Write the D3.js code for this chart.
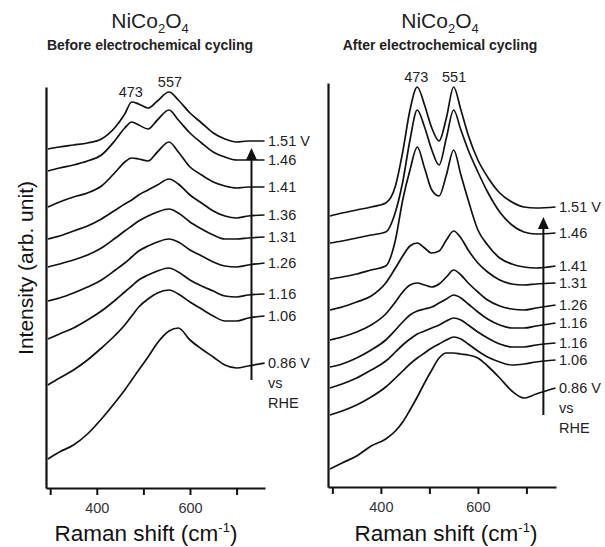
<!DOCTYPE html>
<html>
<head>
<meta charset="utf-8">
<script src="https://cdn.jsdelivr.net/npm/d3@7"></script>
<style>
  body { margin: 0; background: #fff; }
  svg { font-family: "Liberation Sans", Arial, sans-serif; }
</style>
</head>
<body>
<div id="chart"></div>
<script>
// Raman shift grid (cm-1) and intensities (arb. unit)
const shiftBefore = [295, 320, 350, 380, 410, 440, 460, 475, 490, 510, 530, 555, 575, 600, 625, 650, 675, 700, 725, 760];
const before151 = [339, 341, 343, 345, 349, 361, 374, 386, 384, 380, 387, 396, 388, 375, 365, 355, 349, 346, 347, 347];
const before146 = [317, 320, 323, 327, 333, 348, 360, 366, 363, 359, 368, 378, 368, 355, 345, 336, 331, 328, 328, 328];
const before141 = [281, 286, 291, 295, 302, 316, 326, 330, 329, 327, 336, 346, 336, 321, 313, 306, 302, 300, 301, 301];
const before136 = [249, 252, 257, 262, 269, 278, 284, 288, 293, 298, 303, 309, 304, 293, 285, 277, 272, 270, 272, 273];
const before131 = [221, 224, 228, 233, 240, 250, 257, 262, 267, 272, 276, 279, 275, 266, 259, 253, 249, 249, 250, 251];
const before126 = [187, 190, 195, 201, 208, 218, 225, 231, 237, 242, 246, 249, 246, 238, 232, 226, 222, 221, 223, 225];
const before116 = [149, 154, 160, 168, 177, 188, 196, 202, 208, 213, 217, 220, 216, 208, 202, 197, 192, 191, 193, 194];
const before106 = [103, 110, 118, 128, 140, 153, 163, 172, 181, 189, 195, 198, 194, 186, 179, 172, 167, 167, 170, 172];
const before086 = [29, 36, 43, 54, 69, 86, 98, 108, 118, 131, 145, 157, 160, 148, 139, 131, 123, 120, 122, 125];
const labelsBefore = ['1.51 V', '1.46', '1.41', '1.36', '1.31', '1.26', '1.16', '1.06', '0.86 V'];
const peaksBefore = [473, 557];

const shiftAfter = [295, 320, 350, 380, 410, 430, 445, 460, 475, 490, 505, 520, 535, 550, 565, 580, 600, 620, 645, 670, 695, 720, 760];
const after151 = [271, 274, 277, 280, 284, 301, 335, 377, 400, 382, 359, 346, 369, 400, 377, 352, 327, 310, 294, 285, 280, 279, 280];
const after146 = [244, 246, 249, 252, 255, 275, 305, 347, 377, 360, 337, 322, 349, 377, 357, 337, 315, 295, 275, 262, 255, 253, 254];
const after141 = [208, 210, 213, 217, 221, 247, 287, 317, 340, 319, 297, 291, 312, 337, 312, 287, 257, 242, 229, 223, 220, 219, 221];
const after131 = [177, 180, 185, 191, 204, 219, 231, 241, 244, 239, 234, 236, 247, 256, 249, 237, 224, 215, 207, 203, 202, 203, 204];
const after126 = [147, 150, 155, 162, 173, 185, 195, 202, 204, 202, 200, 203, 210, 217, 212, 204, 195, 187, 181, 178, 177, 179, 182];
const after116a = [120, 123, 129, 137, 147, 157, 165, 172, 176, 178, 180, 184, 188, 192, 189, 183, 175, 168, 162, 159, 159, 161, 164];
const after116b = [99, 103, 109, 117, 126, 135, 142, 148, 153, 156, 159, 162, 166, 169, 167, 162, 155, 149, 143, 140, 140, 142, 144];
const after106 = [72, 76, 82, 90, 100, 109, 116, 123, 129, 134, 139, 143, 147, 150, 148, 143, 136, 130, 125, 122, 123, 125, 127];
const after086 = [18, 24, 31, 41, 48, 56, 65, 77, 90, 104, 117, 129, 134, 134, 133, 132, 129, 121, 109, 96, 89, 93, 99];
const labelsAfter = ['1.51 V', '1.46', '1.41', '1.31', '1.26', '1.16', '1.16', '1.06', '0.86 V'];
const peaksAfter = [473, 551];

const tickValues = [300, 400, 500, 600, 700];
const tickLabels = [400, 600];
const shiftDomain = [291, 761];

const svg = d3.select('#chart').append('svg')
  .attr('width', 605)
  .attr('height', 547);

function drawPanel(p) {
  const x = d3.scaleLinear().domain(shiftDomain).range([p.x0, p.x1]);
  const y = d3.scaleLinear().domain([0, p.yMax]).range([p.y1, p.y0]);
  const g = svg.append('g');

  const line = d3.line()
    .x(d => x(d[0]))
    .y(d => y(d[1]))
    .curve(d3.curveMonotoneX);

  p.spectra.forEach((s, i) => {
    g.append('path')
      .datum(p.shifts.map((v, j) => [v, s[j]]))
      .attr('d', line)
      .attr('fill', 'none')
      .attr('stroke', '#111')
      .attr('stroke-width', 1.7)
      .attr('stroke-linejoin', 'round');

    g.append('text')
      .attr('x', p.x1 + 3)
      .attr('y', y(s[s.length - 1]))
      .attr('dy', '0.35em')
      .attr('font-size', 14.5)
      .attr('fill', '#222')
      .text(p.labels[i]);
  });

  // "vs RHE" under the last label
  const last = p.spectra[p.spectra.length - 1];
  ['vs', 'RHE'].forEach((t, k) => {
    g.append('text')
      .attr('x', p.x1 + 3)
      .attr('y', y(last[last.length - 1]) + 20 * (k + 1))
      .attr('dy', '0.35em')
      .attr('font-size', 14.5)
      .attr('fill', '#222')
      .text(t);
  });

  // peak positions over the top spectrum
  const top = p.spectra[0];
  p.peaks.forEach(pk => {
    const near = p.shifts.map((v, j) => [v, top[j]]).filter(d => Math.abs(d[0] - pk) < 20);
    g.append('text')
      .attr('x', x(pk))
      .attr('y', y(d3.max(near, d => d[1])) - 5)
      .attr('text-anchor', 'middle')
      .attr('font-size', 14.5)
      .attr('fill', '#222')
      .text(pk);
  });

  // arrow
  const ax = x(p.arrow.shift);
  const tipY = y(p.arrow.to);
  g.append('line')
    .attr('x1', ax).attr('x2', ax)
    .attr('y1', y(p.arrow.from)).attr('y2', tipY + 8)
    .attr('stroke', '#111')
    .attr('stroke-width', 2);
  g.append('path')
    .attr('d', `M${ax},${tipY} L${ax - 5.5},${tipY + 12} L${ax + 5.5},${tipY + 12} Z`)
    .attr('fill', '#111');

  // axes
  g.append('g')
    .attr('transform', `translate(0,${p.y1})`)
    .call(d3.axisBottom(x)
      .tickValues(tickValues)
      .tickFormat(d => tickLabels.includes(d) ? d : '')
      .tickSize(7)
      .tickPadding(8)
      .tickSizeOuter(0))
    .call(a => {
      a.attr('font-family', null);
      a.select('.domain').attr('stroke', '#111').attr('stroke-width', 2.2);
      a.selectAll('.tick line').attr('stroke', '#111').attr('stroke-width', 2);
      a.selectAll('.tick text').attr('font-size', 14.5).attr('fill', '#333');
    });

  g.append('g')
    .attr('transform', `translate(${p.x0},0)`)
    .call(d3.axisLeft(y).tickValues([]).tickSizeOuter(0))
    .call(a => a.select('.domain').attr('stroke', '#111').attr('stroke-width', 2.2));

  // titles
  const t = g.append('text')
    .attr('x', p.titleX)
    .attr('y', 28)
    .attr('text-anchor', 'middle')
    .attr('font-size', 21)
    .attr('fill', '#222');
  t.append('tspan').text('NiCo');
  t.append('tspan').attr('font-size', 13).attr('dy', 5).text('2');
  t.append('tspan').attr('dy', -5).text('O');
  t.append('tspan').attr('font-size', 13).attr('dy', 5).text('4');

  g.append('text')
    .attr('x', p.titleX)
    .attr('y', 50)
    .attr('text-anchor', 'middle')
    .attr('font-size', 14)
    .attr('font-weight', 'bold')
    .attr('fill', '#222')
    .text(p.subtitle);

  const xt = g.append('text')
    .attr('x', p.xTitleX)
    .attr('y', 541)
    .attr('text-anchor', 'middle')
    .attr('font-size', 22.5)
    .attr('fill', '#111');
  xt.append('tspan').text('Raman shift (cm');
  xt.append('tspan').attr('font-size', 13).attr('dy', -9).text('-1');
  xt.append('tspan').attr('dy', 9).text(')');
}

drawPanel({
  x0: 46, x1: 265, y0: 87, y1: 488, yMax: 401,
  shifts: shiftBefore,
  spectra: [before151, before146, before141, before136, before131, before126, before116, before106, before086],
  labels: labelsBefore,
  peaks: peaksBefore,
  arrow: { shift: 732, from: 108, to: 340 },
  titleX: 150, xTitleX: 146,
  subtitle: 'Before electrochemical cycling'
});

drawPanel({
  x0: 328, x1: 556, y0: 83, y1: 487, yMax: 404,
  shifts: shiftAfter,
  spectra: [after151, after146, after141, after131, after126, after116a, after116b, after106, after086],
  labels: labelsAfter,
  peaks: peaksAfter,
  arrow: { shift: 735, from: 72, to: 270 },
  titleX: 440, xTitleX: 446,
  subtitle: 'After electrochemical cycling'
});

svg.append('text')
  .attr('transform', 'translate(33,268) rotate(-90)')
  .attr('text-anchor', 'middle')
  .attr('font-size', 21)
  .attr('fill', '#111')
  .text('Intensity (arb. unit)');
</script>
</body>
</html>
